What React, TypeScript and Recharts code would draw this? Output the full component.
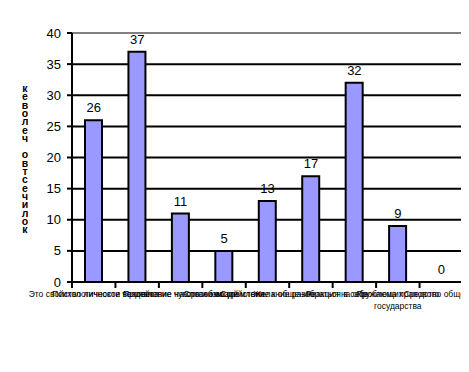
import React from "react";
import {
  ComposedChart,
  Bar,
  Line,
  XAxis,
  YAxis,
  CartesianGrid,
  LabelList,
  ReferenceLine,
} from "recharts";

const CATEGORIES = [
  "Это свойство личности человека",
  "Психологическое воздействие на организм",
  "Проявление чувств и эмоций",
  "Способ воздействия",
  "Стремление к общению",
  "Желание разобраться в себе",
  "Реакция на окружающих",
  "Проблема правового|государства",
  "Средство общения",
];
const VALUES = [26, 37, 11, 5, 13, 17, 32, 9, 0];
const Y_TICKS = [0, 5, 10, 15, 20, 25, 30, 35, 40];
const Y_LABEL = "количество человек";

const FONT = "'Liberation Sans', Arial, sans-serif";

const data = CATEGORIES.map((name, i) => ({ name, value: VALUES[i] }));

const BAND = 391 / CATEGORIES.length;

const CategoryTick = (props: any) => {
  const { x, y, payload, index } = props;
  const lines = String(payload.value).split("|");
  return (
    <g>
      <line x1={x - BAND / 2} y1={y - 8} x2={x - BAND / 2} y2={y - 2} stroke="#000" strokeWidth={2} />
      {index === CATEGORIES.length - 1 && (
        <line x1={x + BAND / 2} y1={y - 8} x2={x + BAND / 2} y2={y - 2} stroke="#000" strokeWidth={2} />
      )}
      <text x={x} y={y + 7} textAnchor="middle" fontFamily={FONT} fontSize={8.5} fill="#000">
        {lines.map((l, i) => (
          <tspan key={i} x={x} dy={i === 0 ? 0 : 12}>
            {l}
          </tspan>
        ))}
      </text>
    </g>
  );
};

const StackedLabel = () => {
  const letters = Y_LABEL.split("").reverse();
  return (
    <text x={17} y={84} textAnchor="middle" fontFamily={FONT} fontSize={10.5} fontWeight="bold" fill="#000">
      {letters.map((c, i) => (
        <tspan key={i} x={17} dy={i === 0 ? 0 : 8.3}>
          {c === " " ? "\u00a0" : c}
        </tspan>
      ))}
    </text>
  );
};

export default function App() {
  return (
    <ComposedChart
      width={461}
      height={356}
      data={data}
      margin={{ top: 25, right: 6, bottom: 42, left: 0 }}
      barCategoryGap={0}
    >
      <CartesianGrid yAxisId="left" vertical={false} stroke="#000" strokeWidth={2} />
      <XAxis
        dataKey="name"
        height={40}
        interval={0}
        axisLine={{ stroke: "#000", strokeWidth: 2 }}
        tickLine={false}
        tick={<CategoryTick />}
      />
      <YAxis
        yAxisId="left"
        width={64}
        domain={[0, 40]}
        ticks={Y_TICKS}
        interval={0}
        axisLine={{ stroke: "#000", strokeWidth: 2 }}
        tickLine={{ stroke: "#000", strokeWidth: 2 }}
        tickSize={5}
        tickMargin={6}
        tick={{ fontFamily: FONT, fontSize: 13, fill: "#000" }}
        label={<StackedLabel />}
      />
      <YAxis
        yAxisId="right"
        orientation="right"
        width={0}
        domain={[0, 40]}
        tick={false}
        tickLine={false}
        axisLine={{ stroke: "#808080", strokeWidth: 2 }}
      />
      <ReferenceLine yAxisId="left" y={40} stroke="#808080" strokeWidth={2} />
      <Bar
        yAxisId="left"
        dataKey="value"
        fill="#9999FF"
        stroke="#000"
        strokeWidth={2}
        barSize={17}
        isAnimationActive={false}
      />
      <Line
        yAxisId="left"
        dataKey="value"
        stroke="none"
        dot={false}
        activeDot={false}
        isAnimationActive={false}
      >
        <LabelList
          dataKey="value"
          position="top"
          offset={8}
          fontFamily={FONT}
          fontSize={13}
          fill="#000"
        />
      </Line>
    </ComposedChart>
  );
}
